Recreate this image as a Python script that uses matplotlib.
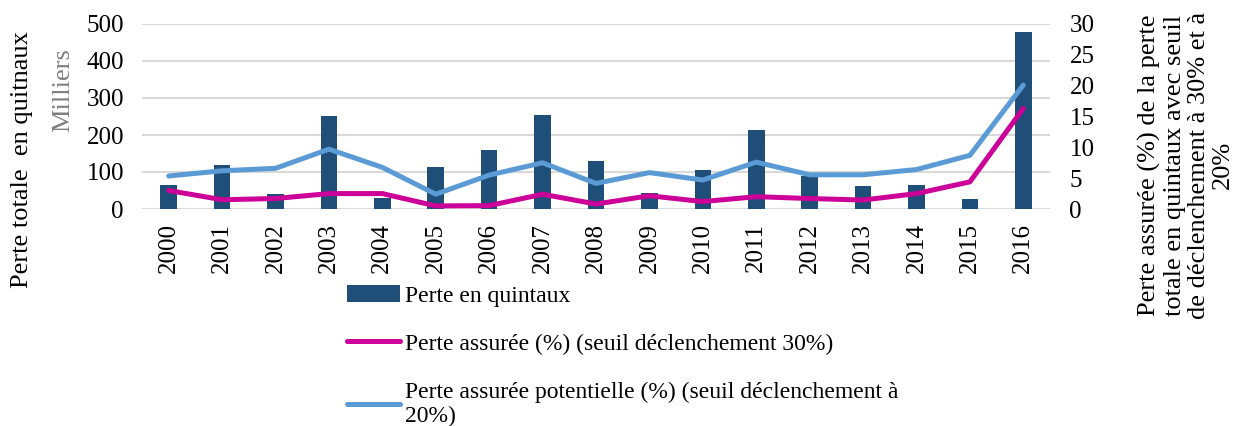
import matplotlib
matplotlib.use("Agg")
import matplotlib.pyplot as plt
import numpy as np

years = [str(y) for y in range(2000, 2017)]
perte_quintaux = [65, 119, 40, 250, 31, 114, 159, 254, 129, 42, 106, 213, 90, 62, 64, 27, 478]
perte_assuree_30 = [3.0, 1.5, 1.7, 2.5, 2.5, 0.5, 0.55, 2.4, 0.8, 2.15, 1.2, 2.0, 1.7, 1.45, 2.5, 4.4, 16.3]
perte_assuree_20 = [5.35, 6.2, 6.6, 9.7, 6.75, 2.4, 5.5, 7.5, 4.15, 5.9, 4.7, 7.6, 5.55, 5.55, 6.4, 8.7, 20.1]

plt.rcParams['font.family'] = ['Liberation Serif', 'DejaVu Serif']

W, H = 1235, 426
fig = plt.figure(figsize=(W/100, H/100), dpi=100)
ax = fig.add_axes([142/W, 1 - 209/H, (1050-142)/W, (209-24)/H])
x = np.arange(len(years))
bars = ax.bar(x, perte_quintaux, width=0.31, color='#1F4E79', label='Perte en quintaux', zorder=2)
ax.set_ylim(0, 500)
ax.set_xlim(-0.5, len(years) - 0.5)
ax.set_yticks(range(0, 501, 100))
ax.set_xticks(x)
ax.set_xticklabels(years, rotation=90, fontsize=18)
ax.tick_params(axis='y', labelsize=18, length=0, pad=13)
ax.tick_params(axis='x', length=0, pad=10)
ax.grid(axis='y', color='#D9D9D9', linewidth=1.5, zorder=0)
ax.set_axisbelow(True)
for s in ax.spines.values():
    s.set_visible(False)

ax2 = ax.twinx()
l1, = ax2.plot(x, perte_assuree_30, color='#CC0099', linewidth=3.6, solid_capstyle='round',
               label='Perte assurée (%) (seuil déclenchement 30%)', zorder=3)
l2, = ax2.plot(x, perte_assuree_20, color='#5B9BD5', linewidth=3.6, solid_capstyle='round',
               label='Perte assurée potentielle (%) (seuil déclenchement à\n20%)', zorder=3)
ax2.set_ylim(0, 30)
ax2.set_yticks(range(0, 31, 5))
ax2.tick_params(axis='y', labelsize=18, length=0, pad=14)
for s in ax2.spines.values():
    s.set_visible(False)

fig.text(22/W, 1 - 160/H, 'Perte totale  en quitnaux', rotation=90, ha='center', va='center', fontsize=19)
fig.text(63/W, 1 - 90/H, 'Milliers', rotation=90, ha='center', va='center', fontsize=19, color='#7F7F7F')
fig.text(1186/W, 1 - 165/H, 'Perte assurée (%) de la perte\ntotale en quintaux avec seuil\nde déclenchement à 30% et à\n20%',
         rotation=90, ha='center', va='center', fontsize=19, multialignment='center', linespacing=1.12)

fig.legend(handles=[bars, l1, l2], loc='upper left', bbox_to_anchor=(347/W, 1 - 285/H),
           frameon=False, fontsize=17, labelspacing=1.13, handlelength=2.25, handletextpad=0.21,
           borderaxespad=0, borderpad=0)

fig.savefig('out.png', dpi=100)
